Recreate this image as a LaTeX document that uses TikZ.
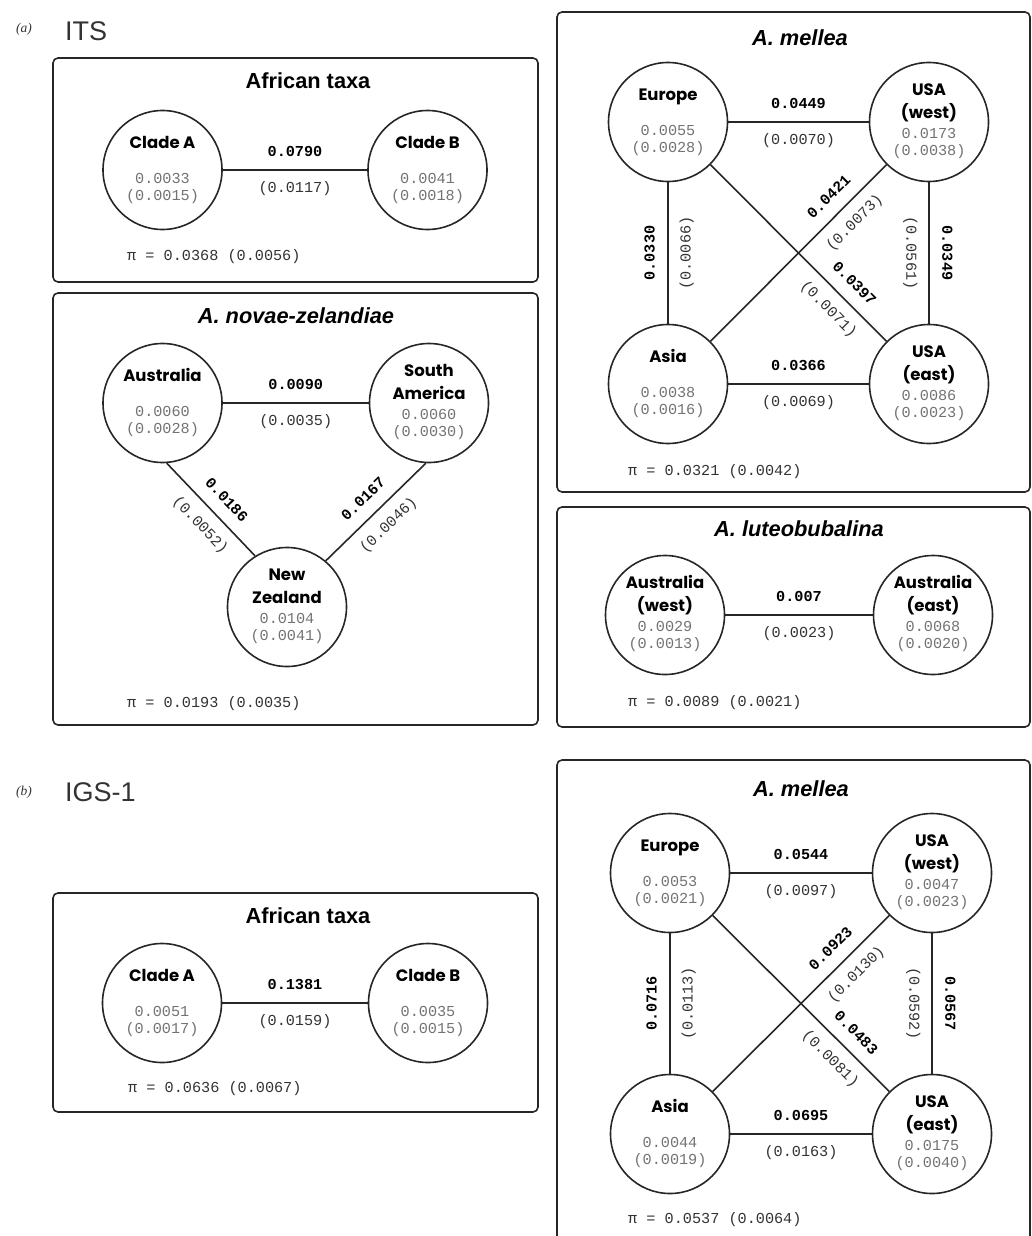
\documentclass[tikz,border=0pt]{standalone}
\usepackage{fontspec}
\setmainfont{Liberation Sans}
\newfontfamily\popfont{Poppins}
\newfontfamily\monofont{Liberation Mono}
\newfontfamily\seriffont{Liberation Serif}

\tikzset{
  x=1pt, y=-1pt,
  panel/.style={draw=black!85, line width=1.6pt, rounded corners=5pt},
  pop/.style={circle, draw=black!85, line width=1.6pt, minimum size=119pt, inner sep=0pt},
  link/.style={draw=black!85, line width=1.6pt},
  pname/.style={font=\popfont\bfseries\fontsize{16.5}{16.5}\selectfont, inner sep=0pt, text height=11.5pt, text depth=0pt},
  pval/.style={font=\monofont\fontsize{15.2}{15.2}\selectfont, text=black!55, inner sep=0pt, text height=9.3pt, text depth=0pt},
  elab/.style={font=\monofont\bfseries\fontsize{15.2}{15.2}\selectfont, inner sep=0pt, text height=9.3pt, text depth=0pt},
  esub/.style={font=\monofont\fontsize{15.2}{15.2}\selectfont, text=black!80, inner sep=0pt, text height=9.3pt, text depth=0pt},
  ttl/.style={font=\bfseries\fontsize{21.8}{21.8}\selectfont},
  sttl/.style={font=\bfseries\itshape\fontsize{21.8}{21.8}\selectfont},
  pitext/.style={font=\monofont\fontsize{15.2}{15.2}\selectfont, anchor=west, text=black!80, inner sep=0pt},
  bigtag/.style={font=\fontsize{27}{27}\selectfont, text=black!80, anchor=west, inner sep=0pt},
  parttag/.style={font=\seriffont\itshape\fontsize{13.5}{13.5}\selectfont, text=black!80, inner sep=0pt},
}

\newcommand\popone[6]{%
  \node[pop] (#1) at (#2,#3) {};
  \node[pname] (#1-n) at (#2,#3-27) {#4};
  \node[pval] (#1-v) at (#2,#3+9) {#5};
  \node[pval] (#1-e) at (#2,#3+26) {#6};}
\newcommand\poptwo[7]{%
  \node[pop] (#1) at (#2,#3) {};
  \node[pname] (#1-n) at (#2,#3-32) {#4};
  \node[pname] (#1-m) at (#2,#3-9) {#5};
  \node[pval] (#1-v) at (#2,#3+12) {#6};
  \node[pval] (#1-e) at (#2,#3+29) {#7};}

\begin{document}
\begin{tikzpicture}
\useasboundingbox (0,0) rectangle (1032,1236);

% ---------- headings ----------
\node[parttag] (ta) at (24,29) {(a)};
\node[bigtag] (its) at (65,31) {ITS};
\node[parttag] (tb) at (24,792) {(b)};
\node[bigtag] (igs) at (65,792) {IGS-1};

% ---------- (a) African taxa ----------
\draw[panel] (53,58) rectangle (538,282);
\node[ttl] (t1) at (308,81) {African taxa};
\popone{ca1}{162.5}{170}{Clade A}{0.0033}{(0.0015)}
\popone{cb1}{427.5}{170}{Clade B}{0.0041}{(0.0018)}
\draw[link] (ca1) -- node[elab, above=12.5pt] (l1a) {0.0790} node[esub, below=12.5pt] (l1b) {(0.0117)} (cb1);
\node[pitext] (pi1) at (127,257) {π = 0.0368 (0.0056)};

% ---------- (a) A. novae-zelandiae ----------
\draw[panel] (53,293) rectangle (538,725);
\node[sttl] (t2) at (296,316) {A. novae-zelandiae};
\popone{aus}{162.5}{403}{Australia}{0.0060}{(0.0028)}
\poptwo{sam}{429}{403}{South}{America}{0.0060}{(0.0030)}
\poptwo{nz}{287}{607}{New}{Zealand}{0.0104}{(0.0041)}
\draw[link] (aus) -- node[elab, above=12.5pt] (l2a) {0.0090} node[esub, below=12.5pt] (l2b) {(0.0035)} (sam);
\draw[link] (aus.274) -- node[pos=0.53, sloped, elab, above=12.5pt] (l3a) {0.0186} node[pos=0.53, sloped, esub, below=12.5pt] (l3b) {(0.0052)} (nz.122);
\draw[link] (nz.50) -- node[pos=0.5, sloped, elab, above=12.5pt] (l4a) {0.0167} node[pos=0.5, sloped, esub, below=12.5pt] (l4b) {(0.0046)} (sam.267);
\node[pitext] (pi2) at (127,704) {π = 0.0193 (0.0035)};

% ---------- (a) A. mellea ----------
\draw[panel] (557,12) rectangle (1030,492);
\node[sttl] (t3) at (800,38) {A. mellea};
\popone{eu1}{668}{122}{Europe}{0.0055}{(0.0028)}
\poptwo{uw1}{929}{122}{USA}{(west)}{0.0173}{(0.0038)}
\popone{as1}{668}{384}{Asia}{0.0038}{(0.0016)}
\poptwo{ue1}{929}{384}{USA}{(east)}{0.0086}{(0.0023)}
\draw[link] (eu1) -- node[elab, above=12.5pt] (m1a) {0.0449} node[esub, below=12.5pt] (m1b) {(0.0070)} (uw1);
\draw[link] (as1) -- node[elab, above=12.5pt] (m2a) {0.0366} node[esub, below=12.5pt] (m2b) {(0.0069)} (ue1);
\draw[link] (as1) -- node[sloped, elab, above=12.5pt] (m3a) {0.0330} node[sloped, esub, below=12.5pt] (m3b) {(0.0066)} (eu1);
\draw[link] (uw1) -- node[sloped, elab, above=12.5pt] (m4a) {0.0349} node[sloped, esub, below=12.5pt] (m4b) {(0.0561)} (ue1);
\draw[link] (eu1) -- node[pos=0.745, sloped, elab, above=12.5pt] (m5a) {0.0397} node[pos=0.745, sloped, esub, below=12.5pt] (m5b) {(0.0071)} (ue1);
\draw[link] (as1) -- node[pos=0.745, sloped, elab, above=12.5pt] (m6a) {0.0421} node[pos=0.745, sloped, esub, below=12.5pt] (m6b) {(0.0073)} (uw1);
\node[pitext] (pi3) at (628,472) {π = 0.0321 (0.0042)};

% ---------- (a) A. luteobubalina ----------
\draw[panel] (557,507) rectangle (1030,727);
\node[sttl] (t4) at (799,529) {A. luteobubalina};
\poptwo{aw}{665}{615}{Australia}{(west)}{0.0029}{(0.0013)}
\poptwo{ae}{933}{615}{Australia}{(east)}{0.0068}{(0.0020)}
\draw[link] (aw) -- node[elab, above=12.5pt] (n1a) {0.007} node[esub, below=12.5pt] (n1b) {(0.0023)} (ae);
\node[pitext] (pi4) at (628,703) {π = 0.0089 (0.0021)};

% ---------- (b) African taxa ----------
\draw[panel] (53,893) rectangle (538,1112);
\node[ttl] (t5) at (308,916) {African taxa};
\popone{ca2}{162}{1003}{Clade A}{0.0051}{(0.0017)}
\popone{cb2}{428}{1003}{Clade B}{0.0035}{(0.0015)}
\draw[link] (ca2) -- node[elab, above=12.5pt] (k1a) {0.1381} node[esub, below=12.5pt] (k1b) {(0.0159)} (cb2);
\node[pitext] (pi5) at (128,1089) {π = 0.0636 (0.0067)};

% ---------- (b) A. mellea ----------
\draw[panel] (557,1245) -- (557,760) -- (1030,760) -- (1030,1245);
\node[sttl] (t6) at (801,789) {A. mellea};
\popone{eu2}{670}{873}{Europe}{0.0053}{(0.0021)}
\poptwo{uw2}{932}{873}{USA}{(west)}{0.0047}{(0.0023)}
\popone{as2}{670}{1134}{Asia}{0.0044}{(0.0019)}
\poptwo{ue2}{932}{1134}{USA}{(east)}{0.0175}{(0.0040)}
\draw[link] (eu2) -- node[elab, above=12.5pt] (j1a) {0.0544} node[esub, below=12.5pt] (j1b) {(0.0097)} (uw2);
\draw[link] (as2) -- node[elab, above=12.5pt] (j2a) {0.0695} node[esub, below=12.5pt] (j2b) {(0.0163)} (ue2);
\draw[link] (as2) -- node[sloped, elab, above=12.5pt] (j3a) {0.0716} node[sloped, esub, below=12.5pt] (j3b) {(0.0113)} (eu2);
\draw[link] (uw2) -- node[sloped, elab, above=12.5pt] (j4a) {0.0567} node[sloped, esub, below=12.5pt] (j4b) {(0.0592)} (ue2);
\draw[link] (eu2) -- node[pos=0.74, sloped, elab, above=12.5pt] (j5a) {0.0483} node[pos=0.74, sloped, esub, below=12.5pt] (j5b) {(0.0081)} (ue2);
\draw[link] (as2) -- node[pos=0.74, sloped, elab, above=12.5pt] (j6a) {0.0923} node[pos=0.74, sloped, esub, below=12.5pt] (j6b) {(0.0130)} (uw2);
\node[pitext] (pi6) at (628,1220) {π = 0.0537 (0.0064)};
\end{tikzpicture}
\end{document}
